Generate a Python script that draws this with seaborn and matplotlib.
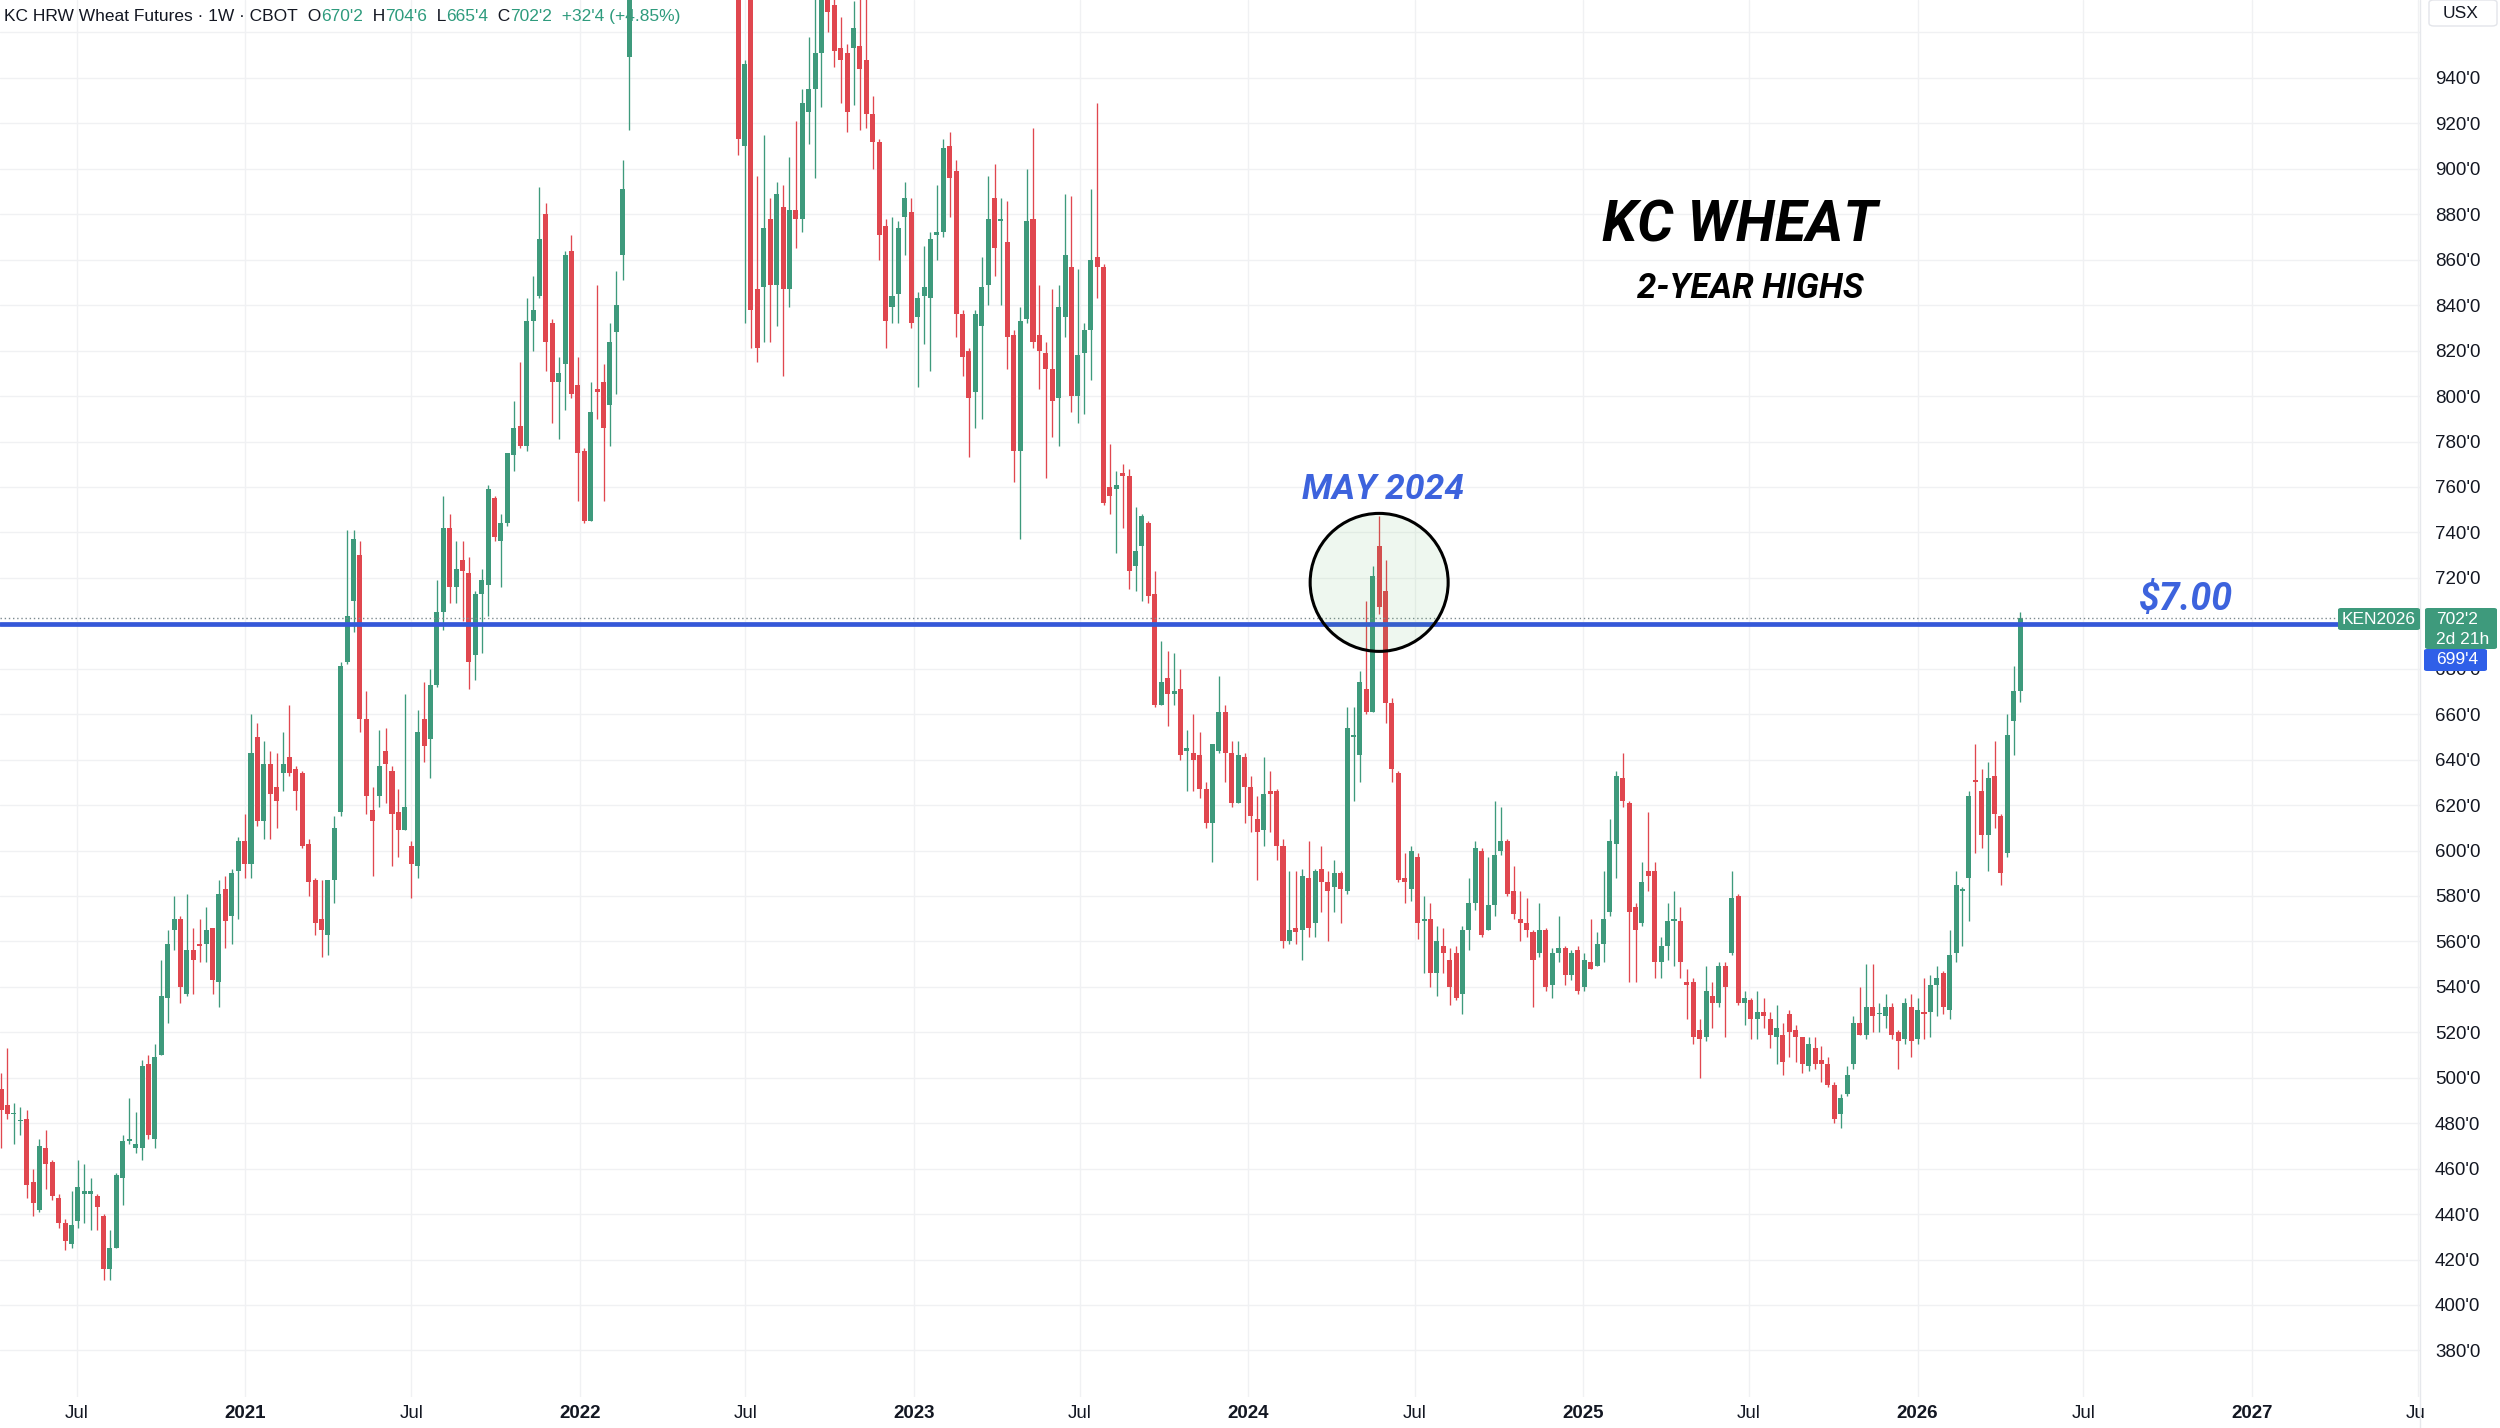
import matplotlib
matplotlib.use("Agg")
import numpy as np
import pandas as pd
import matplotlib.pyplot as plt
import matplotlib.dates as mdates
import seaborn as sns
from matplotlib.patches import Ellipse, FancyBboxPatch
from matplotlib.lines import Line2D
from matplotlib.transforms import Bbox, TransformedBbox

sns.set_theme(style="white")
plt.rcParams["font.family"] = ["Liberation Sans", "DejaVu Sans"]

# ---------------- data (weekly candles, US cents / bushel) ----------------
first_week = "2020-04-09"

opens = [
    495, 488, 484, 481, 482, 454, 442, 469, 463, 447,
    436, 427, 437, 449, 449, 448, 439, 416, 425, 456,
    472, 469, 469, 506, 473, 510, 535, 565, 570, 537,
    556, 559, 559, 566, 542, 583, 571, 591, 604, 594,
    650, 613, 638, 628, 634, 641, 636, 634, 603, 587,
    570, 563, 587, 617, 683, 710, 730, 658, 618, 624,
    644, 635, 617, 609, 602, 593, 658, 649, 673, 705,
    742, 716, 728, 722, 686, 713, 717, 755, 736, 744,
    774, 787, 778, 833, 844, 880, 832, 806, 814, 864,
    805, 776, 745, 803, 806, 796, 828, 862, 949, 1000,
    1120, 1060, 1100, 1070, 1040, 1090, 1130, 1100, 1120, 1200,
    1250, 1170, 1110, 1120, 1050, 1000, 910, 990, 847, 848,
    878, 849, 883, 847, 882, 878, 925, 935, 951, 980,
    972, 953, 951, 953, 954, 948, 924, 912, 875, 839,
    845, 879, 881, 835, 844, 843, 871, 872, 910, 899,
    836, 820, 802, 831, 849, 887, 877, 868, 827, 776,
    834, 878, 827, 819, 812, 799, 835, 857, 800, 819,
    829, 861, 857, 760, 759, 766, 765, 725, 734, 744,
    713, 664, 676, 669, 671, 644, 643, 642, 627, 612,
    644, 661, 643, 621, 641, 628, 614, 609, 626, 626,
    602, 560, 566, 565, 588, 568, 592, 586, 584, 590,
    582, 650, 642, 671, 661, 734, 714, 665, 634, 588,
    583, 597, 569, 570, 546, 558, 552, 555, 537, 565,
    577, 600, 565, 576, 600, 604, 582, 570, 568, 564,
    555, 565, 541, 555, 557, 545, 556, 540, 551, 549,
    559, 573, 603, 632, 621, 575, 568, 591, 591, 551,
    558, 569, 569, 542, 542, 521, 518, 536, 533, 549,
    555, 580, 533, 534, 526, 529, 526, 518, 519, 528,
    521, 518, 505, 513, 508, 506, 497, 484, 493, 506,
    524, 519, 531, 528, 527, 531, 520, 517, 531, 517,
    529, 529, 541, 546, 530, 555, 582, 588, 631, 626,
    607, 633, 615, 599, 657, 670.25,
]

highs = [
    502, 513, 489, 487, 486, 460, 473, 477, 464, 449,
    438, 450, 464, 462, 456, 449, 440, 433, 458, 475,
    491, 485, 508, 510, 515, 552, 565, 580, 571, 581,
    566, 570, 575, 566, 587, 589, 592, 606, 616, 660,
    656, 648, 644, 643, 652, 664, 637, 635, 605, 588,
    587, 587, 615, 683, 741, 741, 736, 670, 628, 653,
    654, 637, 627, 669, 604, 662, 674, 680, 719, 756,
    748, 736, 736, 729, 714, 724, 761, 756, 748, 775,
    798, 815, 843, 853, 892, 885, 834, 817, 864, 871,
    817, 777, 806, 849, 814, 832, 855, 904, 1010, 1340,
    1180, 1130, 1150, 1110, 1100, 1160, 1180, 1140, 1220, 1330,
    1290, 1200, 1160, 1150, 1080, 1010, 948, 1010, 897, 915,
    887, 894, 893, 905, 921, 935, 958, 985, 990, 990,
    985, 967, 955, 974, 980, 980, 932, 913, 878, 879,
    877, 894, 887, 846, 866, 872, 893, 913, 916, 904,
    838, 821, 838, 861, 897, 902, 887, 886, 829, 839,
    900, 918, 849, 824, 847, 849, 889, 888, 856, 832,
    891, 929, 858, 779, 767, 770, 768, 751, 748, 745,
    723, 692, 688, 687, 680, 653, 660, 652, 630, 647,
    677, 664, 648, 648, 643, 633, 624, 641, 635, 627,
    605, 591, 591, 592, 604, 592, 602, 591, 596, 591,
    663, 663, 679, 710, 725, 747, 728, 667, 635, 599,
    602, 599, 580, 577, 567, 566, 557, 558, 567, 588,
    604, 601, 597, 622, 619, 605, 593, 582, 579, 565,
    577, 566, 557, 571, 558, 556, 558, 555, 570, 564,
    591, 614, 635, 643, 622, 577, 595, 617, 595, 562,
    577, 582, 575, 548, 544, 526, 549, 542, 551, 551,
    591, 581, 538, 535, 538, 535, 529, 532, 524, 530,
    523, 518, 518, 518, 514, 509, 498, 493, 505, 527,
    540, 550, 550, 533, 537, 533, 521, 535, 537, 535,
    544, 545, 549, 547, 565, 591, 584, 626, 647, 636,
    639, 648, 616, 660, 681, 704.75,
]

lows = [
    469, 482, 471, 475, 447, 439, 441, 451, 446, 434,
    424, 425, 434, 436, 433, 433, 411, 411, 425, 444,
    471, 467, 464, 473, 469, 510, 524, 556, 533, 536,
    537, 551, 551, 537, 531, 557, 559, 570, 588, 588,
    611, 605, 605, 610, 626, 633, 618, 601, 580, 563,
    553, 554, 577, 615, 682, 696, 652, 616, 589, 619,
    621, 593, 597, 609, 579, 588, 639, 632, 672, 697,
    709, 709, 701, 671, 675, 687, 703, 736, 716, 743,
    767, 777, 776, 820, 843, 811, 788, 781, 794, 799,
    754, 744, 745, 790, 754, 778, 801, 851, 917, 990,
    1040, 1020, 1050, 1010, 1000, 1070, 1080, 1050, 1100, 1180,
    1160, 1090, 1060, 1030, 995, 906, 832, 821, 815, 824,
    824, 831, 809, 839, 865, 872, 911, 896, 927, 960,
    945, 929, 916, 928, 917, 918, 900, 860, 821, 832,
    832, 862, 830, 804, 823, 811, 860, 870, 879, 826,
    809, 773, 786, 790, 840, 853, 840, 812, 762, 737,
    832, 821, 803, 764, 782, 778, 826, 793, 788, 792,
    807, 843, 752, 748, 731, 742, 715, 714, 710, 709,
    663, 664, 655, 664, 640, 626, 626, 623, 610, 595,
    643, 630, 619, 621, 612, 608, 587, 602, 608, 596,
    557, 559, 559, 552, 562, 562, 573, 560, 573, 568,
    581, 622, 630, 660, 661, 704, 656, 630, 586, 577,
    578, 561, 546, 540, 536, 546, 532, 534, 528, 556,
    574, 562, 565, 571, 598, 580, 570, 560, 562, 531,
    553, 538, 535, 551, 541, 543, 537, 538, 548, 549,
    551, 571, 588, 619, 542, 542, 567, 582, 544, 544,
    552, 549, 544, 526, 515, 500, 516, 522, 531, 518,
    554, 532, 523, 517, 517, 522, 513, 506, 501, 509,
    507, 502, 503, 504, 498, 496, 480, 478, 492, 504,
    519, 517, 520, 520, 522, 517, 504, 515, 509, 515,
    517, 518, 527, 528, 526, 551, 558, 569, 599, 601,
    591, 610, 585, 597, 642, 665.5,
]

closes = [
    486, 484, 484, 481, 453, 445, 470, 462, 448, 436,
    428, 435, 452, 450, 450, 443, 416, 425, 457, 472,
    473, 471, 505, 475, 509, 536, 559, 570, 540, 556,
    552, 558, 565, 543, 581, 569, 590, 604, 594, 643,
    613, 638, 625, 622, 638, 634, 626, 602, 586, 568,
    565, 587, 610, 681, 703, 737, 658, 624, 613, 637,
    638, 616, 609, 619, 594, 652, 646, 673, 705, 742,
    716, 724, 723, 683, 713, 719, 759, 738, 744, 775,
    786, 778, 833, 838, 869, 824, 806, 810, 862, 801,
    775, 745, 793, 802, 786, 824, 840, 891, 995, 1120,
    1060, 1100, 1070, 1040, 1090, 1130, 1100, 1120, 1200, 1250,
    1170, 1110, 1120, 1050, 1000, 913, 946, 838, 821, 874,
    849, 889, 847, 882, 878, 929, 935, 951, 980, 969,
    952, 948, 925, 962, 944, 924, 912, 871, 833, 844,
    874, 887, 832, 843, 848, 869, 872, 909, 896, 836,
    817, 799, 836, 848, 878, 865, 878, 826, 776, 833,
    877, 824, 820, 812, 798, 839, 862, 800, 818, 829,
    860, 857, 753, 756, 761, 765, 723, 732, 747, 712,
    664, 674, 669, 670, 642, 645, 640, 627, 612, 647,
    661, 643, 621, 642, 628, 615, 608, 625, 625, 602,
    560, 565, 564, 589, 566, 591, 586, 582, 590, 583,
    654, 651, 674, 661, 721, 707, 665, 636, 587, 586,
    600, 568, 570, 546, 560, 555, 540, 535, 565, 577,
    601, 563, 576, 598, 604, 581, 572, 568, 565, 552,
    565, 540, 555, 557, 545, 555, 538, 552, 548, 559,
    570, 604, 633, 622, 573, 565, 586, 589, 551, 558,
    569, 570, 551, 541, 518, 517, 538, 533, 549, 540,
    579, 533, 535, 526, 529, 527, 519, 522, 507, 520,
    518, 506, 515, 506, 506, 497, 482, 491, 501, 524,
    519, 531, 527, 528, 531, 519, 516, 533, 516, 530,
    528, 541, 544, 531, 554, 585, 583, 624, 630, 607,
    632, 616, 590, 651, 670.25, 702.25,
]

price_ticks = list(range(380, 961, 20))
hidden_ticks = [700, 960]    # covered by the price labels / currency box
level_line = 699.5          # $7.00 horizontal drawing (699'4)
last_price = 702.25         # 702'2

header_parts = [
    ("KC HRW Wheat Futures · 1W · CBOT", "dark"),
    ("  O", "dark"), ("670'2", "green"),
    ("  H", "dark"), ("704'6", "green"),
    ("  L", "dark"), ("665'4", "green"),
    ("  C", "dark"), ("702'2", "green"),
    ("  +32'4 (+4.85%)", "green"),
]

# ---------------- styling ----------------
UP = "#3e9a7c"
DOWN = "#e0474f"
BLUE = "#3558d8"
TXT_BLUE = "#3d63dd"
DARK = "#131722"
GRID = "#f0f1f3"

W, H = 2500, 1428
def fx(px):
    return px / W
def fy(py):
    return 1 - py / H

fig = plt.figure(figsize=(W / 100, H / 100), dpi=100)
fig.patch.set_facecolor("white")
ax = fig.add_axes([0, fy(1397), fx(2420), 1397 / H])
ax.set_facecolor("white")

n = min(len(opens), len(highs), len(lows), len(closes))
o = np.array(opens[:n], float)
h = np.array(highs[:n], float)
l = np.array(lows[:n], float)
c = np.array(closes[:n], float)
dates = pd.date_range(first_week, periods=n, freq="7D")
xs = mdates.date2num(dates)

px_per_day = 6.41 / 7
x_left = xs[0] - 1.0 / px_per_day
x_right = x_left + 2420 / px_per_day
ax.set_xlim(x_left, x_right)
ax.set_ylim(359.5, 974.3)

up = c >= o
cols = np.where(up, UP, DOWN)
bottoms = np.minimum(o, c)
heights = np.maximum(np.abs(c - o), 0.5)
ax.vlines(xs, l, h, colors=cols, lw=0.95, zorder=3)
ax.bar(xs, heights, width=5.5, bottom=bottoms, color=cols, linewidth=0, zorder=3.1)

# grid / ticks
tick_dates = pd.to_datetime([f"{y}-{m:02d}-01" for y in range(2020, 2028) for m in (1, 7)])
tick_dates = tick_dates[tick_dates > dates[0]]
ax.set_xticks(mdates.date2num(tick_dates))
ax.set_xticklabels(["Jul" if d.month == 7 else str(d.year) for d in tick_dates])
ax.set_yticks(price_ticks)
ax.set_yticklabels([f"{v}'0" if v not in hidden_ticks else "" for v in price_ticks])
ax.yaxis.tick_right()
ax.tick_params(axis="y", length=0, pad=10.8, labelsize=13.5, labelcolor=DARK)
ax.tick_params(axis="x", length=0, pad=6, labelsize=13.5, labelcolor=DARK)
for lab, d in zip(ax.get_xticklabels(), tick_dates):
    if d.month == 1:
        lab.set_fontweight("bold")
clip = TransformedBbox(Bbox.from_extents(0, 0, fx(2424), 1), fig.transFigure)
for lab in ax.get_xticklabels():
    lab.set_clip_box(clip)
    lab.set_clip_on(True)
ax.grid(True, color=GRID, lw=1.0)
ax.set_axisbelow(True)
for s in ax.spines.values():
    s.set_visible(False)

# separator of price scale
fig.add_artist(Line2D([fx(2420), fx(2420)], [0, 1], color="#e6e8ec", lw=1.0, transform=fig.transFigure))

# horizontal $7.00 line and last price line
ax.axhline(last_price, color="#7d8a90", lw=1.0, ls=(0, (1, 2)), zorder=3.5)
ax.axhline(level_line, color=BLUE, lw=3.4, zorder=4)

# circle around the May 2024 high
in2024 = np.where(dates.year == 2024)[0]
peak = in2024[np.argmax(h[in2024])]
rad_px = 69
circ = Ellipse((xs[peak], 718), width=2 * rad_px / px_per_day, height=2 * rad_px / 2.2723,
               facecolor=(0.30, 0.69, 0.31, 0.09), edgecolor="black", lw=2.2, zorder=5)
ax.add_patch(circ)

# annotations
ax.text(fx(1383), fy(499), "MAY 2024", transform=fig.transFigure, ha="center", va="baseline",
        fontsize=25.5, fontweight="bold", style="italic", color=TXT_BLUE,
        family=["Roboto", "DejaVu Sans"], zorder=6)
ax.text(fx(2186), fy(610), "$7.00", transform=fig.transFigure, ha="center", va="baseline",
        fontsize=27, fontweight="bold", style="italic", color=TXT_BLUE,
        family=["Roboto", "DejaVu Sans"], zorder=6)
ax.text(fx(1740), fy(242), "KC WHEAT", transform=fig.transFigure, ha="center", va="baseline",
        fontsize=41, fontweight="bold", style="italic", color="black",
        family=["Roboto", "DejaVu Sans"], zorder=6)
ax.text(fx(1750), fy(298), "2-YEAR HIGHS", transform=fig.transFigure, ha="center", va="baseline",
        fontsize=25, fontweight="bold", style="italic", color="black",
        family=["Roboto", "DejaVu Sans"], zorder=6)

# header (under the candles)
renderer = fig.canvas.get_renderer()
xpix = 4
for txt, kind in header_parts:
    t = ax.text(fx(xpix), fy(21), txt, transform=fig.transFigure, ha="left", va="baseline",
                fontsize=12.5, color=DARK if kind == "dark" else "#2e9b7d", zorder=1)
    xpix += t.get_window_extent(renderer=renderer).width

# price-scale labels
def box(x0, y0, x1, y1, color):
    p = FancyBboxPatch((fx(x0), fy(y1)), fx(x1) - fx(x0), fy(y0) - fy(y1),
                       boxstyle="round,pad=0,rounding_size=0.0012", transform=fig.transFigure,
                       facecolor=color, edgecolor="none", zorder=2)
    fig.add_artist(p)

box(2338, 608, 2420, 630, UP)
fig.text(fx(2379), fy(619), "KEN2026", ha="center", va="center", color="white", fontsize=12.5, zorder=3)
box(2425, 608, 2497, 649, UP)
fig.text(fx(2436), fy(619), "702'2", ha="left", va="center", color="white", fontsize=12.5, zorder=3)
fig.text(fx(2436), fy(639), "2d 21h", ha="left", va="center", color="white", fontsize=12.5, zorder=3)
box(2424, 649, 2487, 671, "#2f5fe8")
fig.text(fx(2436), fy(660), "699'4", ha="left", va="center", color="white", fontsize=12.5, zorder=3)

# currency box
cb = FancyBboxPatch((fx(2429), fy(26)), fx(2497) - fx(2429), fy(0) - fy(26),
                    boxstyle="round,pad=0,rounding_size=0.002", transform=fig.transFigure,
                    facecolor="white", edgecolor="#e3e5ea", lw=1.0, zorder=2)
fig.add_artist(cb)
fig.text(fx(2461), fy(14), "USX", ha="center", va="center", color=DARK, fontsize=12.5, zorder=3)

fig.savefig("out.png", dpi=100)
